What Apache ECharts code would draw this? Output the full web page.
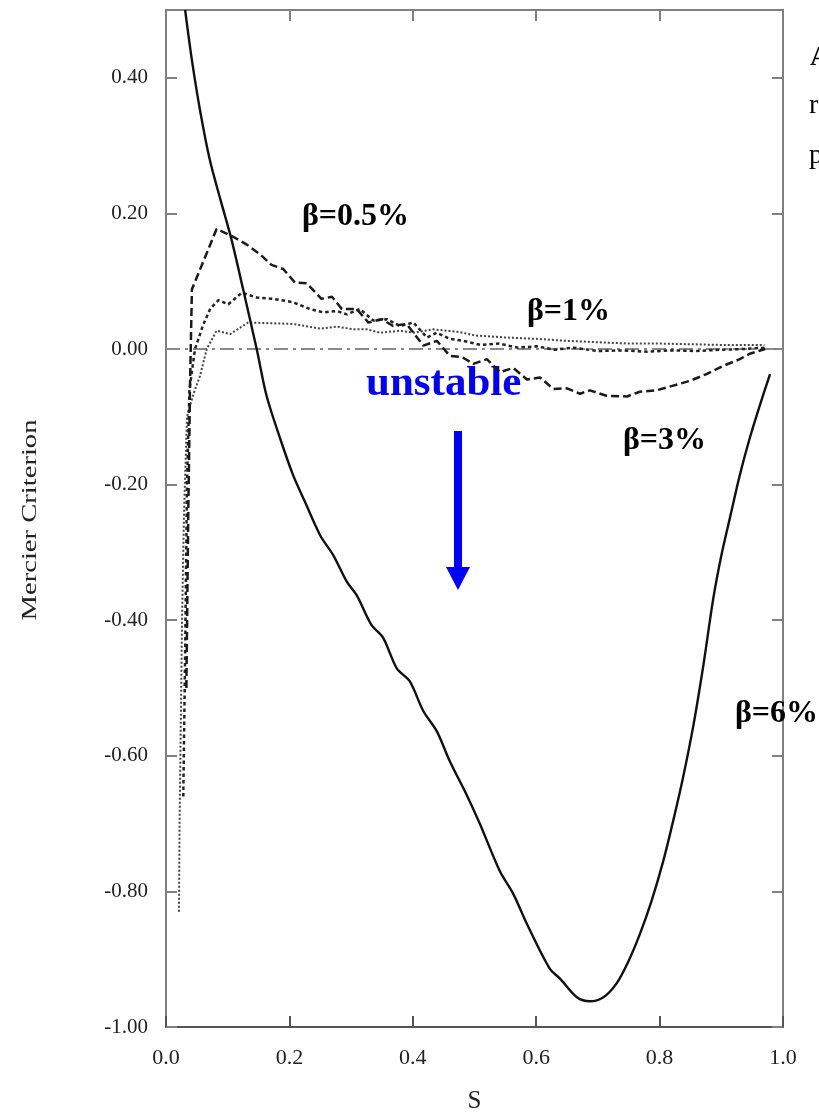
<!DOCTYPE html>
<html>
<head>
<meta charset="utf-8">
<script src="https://cdn.jsdelivr.net/npm/echarts@6/dist/echarts.min.js"></script>
<style>
html,body{margin:0;padding:0;background:#fff;}
#chart{width:819px;height:1119px;}
</style>
</head>
<body>
<div id="chart"></div>
<script>
// ---- data ----
var xTicks = [0.0, 0.2, 0.4, 0.6, 0.8, 1.0];
var yTicks = [-1.0, -0.8, -0.6, -0.4, -0.2, 0.0, 0.2, 0.4];

// beta = 6% (solid)
var b6S = [0.031,0.042,0.055,0.071,0.088,0.106,0.125,0.147,0.163,0.185,0.206,0.225,0.25,0.271,0.293,0.309,0.333,0.352,0.374,0.395,0.417,0.439,0.46,0.487,0.509,0.541,0.563,0.585,0.622,0.639,0.666,0.687,0.709,0.73,0.749,0.768,0.787,0.806,0.822,0.838,0.855,0.871,0.887,0.90,0.915,0.93,0.945,0.96,0.979];
var b6M = [0.5,0.426,0.353,0.279,0.221,0.162,0.088,0.0,-0.069,-0.132,-0.186,-0.225,-0.275,-0.304,-0.343,-0.363,-0.407,-0.426,-0.471,-0.49,-0.534,-0.564,-0.608,-0.657,-0.701,-0.77,-0.804,-0.848,-0.914,-0.929,-0.956,-0.962,-0.956,-0.936,-0.904,-0.863,-0.814,-0.755,-0.696,-0.632,-0.554,-0.466,-0.368,-0.305,-0.245,-0.186,-0.135,-0.09,-0.037];

// beta = 3% (long dashes)
var b3S = [0.033,0.036,0.039,0.042,0.082,0.106,0.131,0.152,0.171,0.19,0.209,0.228,0.252,0.269,0.285,0.309,0.328,0.35,0.368,0.39,0.417,0.439,0.46,0.48,0.498,0.52,0.541,0.563,0.585,0.606,0.628,0.65,0.671,0.687,0.714,0.747,0.768,0.795,0.822,0.849,0.876,0.903,0.93,0.946,0.971];
var b3M = [-0.5,-0.25,-0.05,0.088,0.177,0.167,0.154,0.14,0.124,0.118,0.098,0.097,0.074,0.077,0.059,0.059,0.039,0.044,0.034,0.037,0.005,0.012,-0.01,-0.012,-0.022,-0.015,-0.034,-0.028,-0.045,-0.042,-0.059,-0.058,-0.066,-0.061,-0.069,-0.07,-0.063,-0.061,-0.054,-0.047,-0.037,-0.025,-0.015,-0.007,0.0];

// beta = 1% (medium dots)
var b1S = [0.028,0.031,0.034,0.038,0.047,0.06,0.072,0.085,0.101,0.123,0.147,0.174,0.206,0.233,0.255,0.277,0.293,0.314,0.336,0.358,0.379,0.401,0.423,0.439,0.46,0.482,0.51,0.54,0.57,0.6,0.63,0.66,0.7,0.74,0.78,0.82,0.86,0.9,0.94,0.97];
var b1M = [-0.66,-0.45,-0.2,-0.06,0.0,0.035,0.06,0.072,0.066,0.083,0.076,0.074,0.069,0.059,0.054,0.056,0.051,0.059,0.042,0.044,0.034,0.039,0.017,0.024,0.015,0.012,0.006,0.008,0.002,0.004,-0.001,0.002,-0.003,-0.002,-0.004,-0.002,-0.003,-0.001,0.0,0.002];

// beta = 0.5% (fine dots)
var b05S = [0.021,0.022,0.024,0.026,0.029,0.034,0.045,0.055,0.066,0.082,0.104,0.133,0.169,0.206,0.25,0.277,0.304,0.325,0.347,0.379,0.401,0.433,0.476,0.5,0.55,0.6,0.65,0.7,0.75,0.8,0.85,0.9,0.95,0.97];
var b05M = [-0.83,-0.7,-0.55,-0.4,-0.25,-0.1,-0.065,-0.04,0.0,0.027,0.022,0.039,0.038,0.037,0.03,0.033,0.029,0.029,0.024,0.027,0.024,0.029,0.025,0.02,0.017,0.015,0.012,0.01,0.008,0.008,0.007,0.006,0.006,0.006];

var zeroS = [0.0, 1.0];
var zeroM = [0.0, 0.0];

function zip(a, b){ return a.map(function(v,i){ return [v, b[i]]; }); }

var serif = '"Liberation Serif", "DejaVu Serif", serif';
var frameColor = '#808080';

var chart = echarts.init(document.getElementById('chart'), null, {renderer:'canvas'});
var option = {
  backgroundColor: '#ffffff',
  animation: false,
  grid: {left:166, right:36, top:10, bottom:88, show:true, borderColor:frameColor, borderWidth:2, backgroundColor:'transparent'},
  xAxis: [{
    type:'value', min:0, max:1, interval:0.2, position:'bottom',
    axisLine:{show:true, onZero:false, lineStyle:{color:'#555', width:2}},
    axisTick:{show:true, inside:true, length:11, lineStyle:{color:'#555', width:2}},
    axisLabel:{margin:20, fontFamily:serif, fontSize:22, color:'#222', formatter:function(v){return v.toFixed(1);}},
    splitLine:{show:false},
    name:'S', nameLocation:'middle', nameGap:62,
    nameTextStyle:{fontFamily:serif, fontSize:25, color:'#222'}
  },{
    type:'value', min:0, max:1, interval:0.2, position:'top',
    axisLine:{show:true, onZero:false, lineStyle:{color:frameColor, width:2}},
    axisTick:{show:true, inside:true, length:11, lineStyle:{color:frameColor, width:2}},
    axisLabel:{show:false}, splitLine:{show:false}
  }],
  yAxis: [{
    type:'value', min:-1, max:0.5, interval:0.2, position:'left',
    axisLine:{show:true, onZero:false, lineStyle:{color:frameColor, width:2}},
    axisTick:{show:true, inside:true, length:11, lineStyle:{color:frameColor, width:2}},
    axisLabel:{margin:18, fontFamily:serif, fontSize:21, color:'#222',
      formatter:function(v){ if (v > 0.45) return ''; return (Math.abs(v) < 1e-9 ? 0 : v).toFixed(2); }},
    splitLine:{show:false}
  },{
    type:'value', min:-1, max:0.5, interval:0.2, position:'right',
    axisLine:{show:true, onZero:false, lineStyle:{color:frameColor, width:2}},
    axisTick:{show:true, inside:true, length:11, lineStyle:{color:frameColor, width:2}},
    axisLabel:{show:false}, splitLine:{show:false}
  }],
  series: [
    {name:'zero', type:'line', data:zip(zeroS, zeroM), symbol:'none', silent:true,
     lineStyle:{color:'#8a8a8a', width:2, type:[14,5,3,5]}},
    {name:'β=0.5%', type:'line', data:zip(b05S, b05M), symbol:'none', smooth:false,
     lineStyle:{color:'#444', width:2, type:[2,2]}},
    {name:'β=1%', type:'line', data:zip(b1S, b1M), symbol:'none',
     lineStyle:{color:'#222', width:2.5, type:[3.5,3]}},
    {name:'β=3%', type:'line', data:zip(b3S, b3M), symbol:'none',
     lineStyle:{color:'#1a1a1a', width:2.5, type:[8,4]}},
    {name:'β=6%', type:'line', data:zip(b6S, b6M), symbol:'none', smooth:0.3,
     lineStyle:{color:'#111', width:2.4, type:'solid'}}
  ],
  graphic: [
    {type:'text', x:30, y:520, rotation:Math.PI/2, scaleX:1.3,
     style:{text:'Mercier Criterion', fontFamily:serif, fontSize:22, fill:'#222', align:'center', verticalAlign:'middle'}},
    {type:'text', x:302, y:233, style:{text:'β=0.5%', fontFamily:serif, fontSize:32, fontWeight:'bold', fill:'#000', align:'left', verticalAlign:'bottom'}},
    {type:'text', x:527, y:328, style:{text:'β=1%', fontFamily:serif, fontSize:32, fontWeight:'bold', fill:'#000', align:'left', verticalAlign:'bottom'}},
    {type:'text', x:623, y:457, style:{text:'β=3%', fontFamily:serif, fontSize:32, fontWeight:'bold', fill:'#000', align:'left', verticalAlign:'bottom'}},
    {type:'text', x:735, y:730, z:1, style:{text:'β=6%', fontFamily:serif, fontSize:32, fontWeight:'bold', fill:'#000', align:'left', verticalAlign:'bottom'}},
    {type:'text', x:366, y:405, style:{text:'unstable', fontFamily:serif, fontSize:43, fontWeight:'bold', fill:'#0000ff', align:'left', verticalAlign:'bottom'}},
    {type:'rect', shape:{x:454, y:431, width:8, height:137}, style:{fill:'#0000ff'}},
    {type:'polygon', shape:{points:[[446,567],[470,567],[458,590]]}, style:{fill:'#0000ff'}},
    {type:'text', x:810, y:72, style:{text:'A', fontFamily:serif, fontSize:28, fontWeight:'bold', fill:'#000', verticalAlign:'bottom'}},
    {type:'text', x:809, y:120, style:{text:'r', fontFamily:serif, fontSize:28, fill:'#000', verticalAlign:'bottom'}},
    {type:'text', x:809, y:170, style:{text:'p', fontFamily:serif, fontSize:28, fill:'#000', verticalAlign:'bottom'}}
  ]
};
chart.setOption(option);
</script>
</body>
</html>
